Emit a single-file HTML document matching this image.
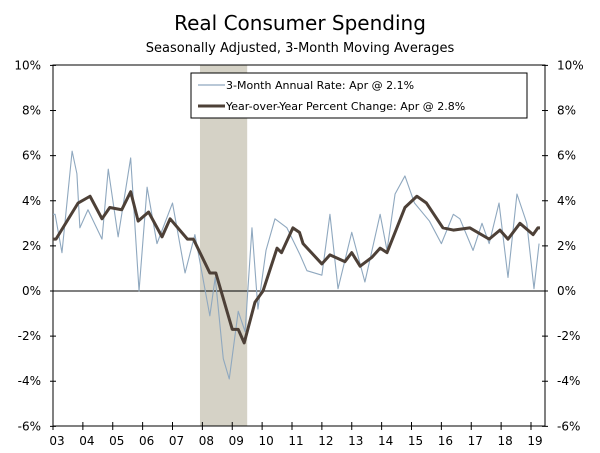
<!DOCTYPE html>
<html><head><meta charset="utf-8"><style>
body{margin:0;background:#fff;}
svg{display:block;font-family:"DejaVu Sans","Liberation Sans",sans-serif;}
</style></head><body>
<svg id="chart" width="600" height="453">
<text x="300" y="30" text-anchor="middle" font-size="20" fill="#000">Real Consumer Spending</text>
<text x="300" y="52" text-anchor="middle" font-size="13" fill="#000">Seasonally Adjusted, 3-Month Moving Averages</text>
<g id="plot"></g>
</svg>
<script>
const yTicks=[10,8,6,4,2,0,-2,-4,-6];
const yearLabels=["03","04","05","06","07","08","09","10","11","12","13","14","15","16","17","18","19"];
const recession=[2007.92,2009.5];
const rateDates=[2003.0,2003.07,2003.3,2003.64,2003.8,2003.9,2004.17,2004.64,2004.85,2005.18,2005.6,2005.88,2006.15,2006.48,2007.0,2007.42,2007.75,2008.25,2008.43,2008.7,2008.9,2009.2,2009.43,2009.66,2009.86,2010.13,2010.43,2010.83,2011.27,2011.5,2012.0,2012.27,2012.54,2013.0,2013.44,2013.95,2014.18,2014.45,2014.78,2015.1,2015.6,2016.0,2016.4,2016.62,2017.06,2017.36,2017.6,2017.93,2018.23,2018.53,2018.86,2019.1,2019.27];
const rateValues=[3.4,3.4,1.7,6.2,5.2,2.8,3.6,2.3,5.4,2.4,5.9,0.0,4.6,2.1,3.9,0.8,2.5,-1.1,0.6,-3.0,-3.9,-0.9,-1.8,2.8,-0.8,1.8,3.2,2.8,1.6,0.9,0.7,3.4,0.1,2.6,0.4,3.4,1.8,4.3,5.1,3.9,3.1,2.1,3.4,3.2,1.8,3.0,2.1,3.9,0.6,4.3,3.0,0.1,2.1];
const yoyDates=[2003.0,2003.1,2003.84,2004.24,2004.64,2004.9,2005.3,2005.6,2005.85,2006.2,2006.65,2006.92,2007.5,2007.7,2008.25,2008.45,2009.0,2009.2,2009.4,2009.76,2010.03,2010.5,2010.65,2011.03,2011.25,2011.37,2012.0,2012.27,2012.77,2013.0,2013.28,2013.68,2013.95,2014.18,2014.78,2015.18,2015.5,2016.05,2016.4,2016.95,2017.6,2017.96,2018.23,2018.63,2019.07,2019.23,2019.3];
const yoyValues=[2.3,2.3,3.9,4.2,3.2,3.7,3.6,4.4,3.1,3.5,2.4,3.2,2.3,2.3,0.8,0.8,-1.7,-1.7,-2.3,-0.5,0.0,1.9,1.7,2.8,2.6,2.1,1.2,1.6,1.3,1.7,1.1,1.5,1.9,1.7,3.7,4.2,3.9,2.8,2.7,2.8,2.3,2.7,2.3,3.0,2.5,2.8,2.8];

const L=53,R=545,T=65,B=426;
const x=yr=>L+(yr-2003)*29.875;
const y=v=>291-v*22.56;
const NS="http://www.w3.org/2000/svg";
const g=document.getElementById('plot');
function mk(tag,attrs,parent){const e=document.createElementNS(NS,tag);for(const k in attrs)e.setAttribute(k,attrs[k]);(parent||g).appendChild(e);return e;}

const rec=mk('rect',{x:x(recession[0]),y:T,width:x(recession[1])-x(recession[0]),height:B-T,fill:'#d5d2c6'});



const frame=mk('rect',{x:L,y:T,width:R-L,height:B-T,fill:'none',stroke:'#000','stroke-width':1});



const zl=mk('line',{x1:L,x2:R,y1:y(0),y2:y(0),stroke:'#000','stroke-width':1});



yTicks.forEach(v=>{
  mk('line',{x1:L-3,x2:L+3,y1:y(v),y2:y(v),stroke:'#000'});
  mk('line',{x1:R-3,x2:R+3,y1:y(v),y2:y(v),stroke:'#000'});
  const a=mk('text',{x:L-12,y:y(v)+4,'text-anchor':'end','font-size':12});a.textContent=v+'%';
  
  
  const b=mk('text',{x:R+12,y:y(v)+4,'text-anchor':'start','font-size':12});b.textContent=v+'%';
  
  
});
yearLabels.forEach((lab,i)=>{
  const xx=x(2003+i);
  mk('line',{x1:xx,x2:xx,y1:B-4,y2:B+4,stroke:'#000'});
  const t=mk('text',{x:xx+4,y:B+19,'text-anchor':'middle','font-size':12});t.textContent=lab;
  
  
});

const p1=mk('polyline',{points:rateDates.map((d,i)=>x(d)+','+y(rateValues[i])).join(' '),fill:'none',stroke:'#8fa8bf','stroke-width':1.1,'stroke-linejoin':'round'});


const p2=mk('polyline',{points:yoyDates.map((d,i)=>x(d)+','+y(yoyValues[i])).join(' '),fill:'none',stroke:'#4d4037','stroke-width':3,'stroke-linejoin':'round'});



const lg=mk('g',{});


mk('rect',{x:191,y:73,width:336,height:45,fill:'#fff',stroke:'#000'},lg);
mk('line',{x1:198,x2:225,y1:85,y2:85,stroke:'#8fa8bf','stroke-width':1.2},lg);
mk('line',{x1:198,x2:225,y1:106,y2:106,stroke:'#4d4037','stroke-width':3},lg);
const l1=mk('text',{x:226,y:89,'font-size':11},lg);l1.textContent='3-Month Annual Rate: Apr @ 2.1%';


const l2=mk('text',{x:226,y:110,'font-size':11},lg);l2.textContent='Year-over-Year Percent Change: Apr @ 2.8%';


</script>
</body></html>
